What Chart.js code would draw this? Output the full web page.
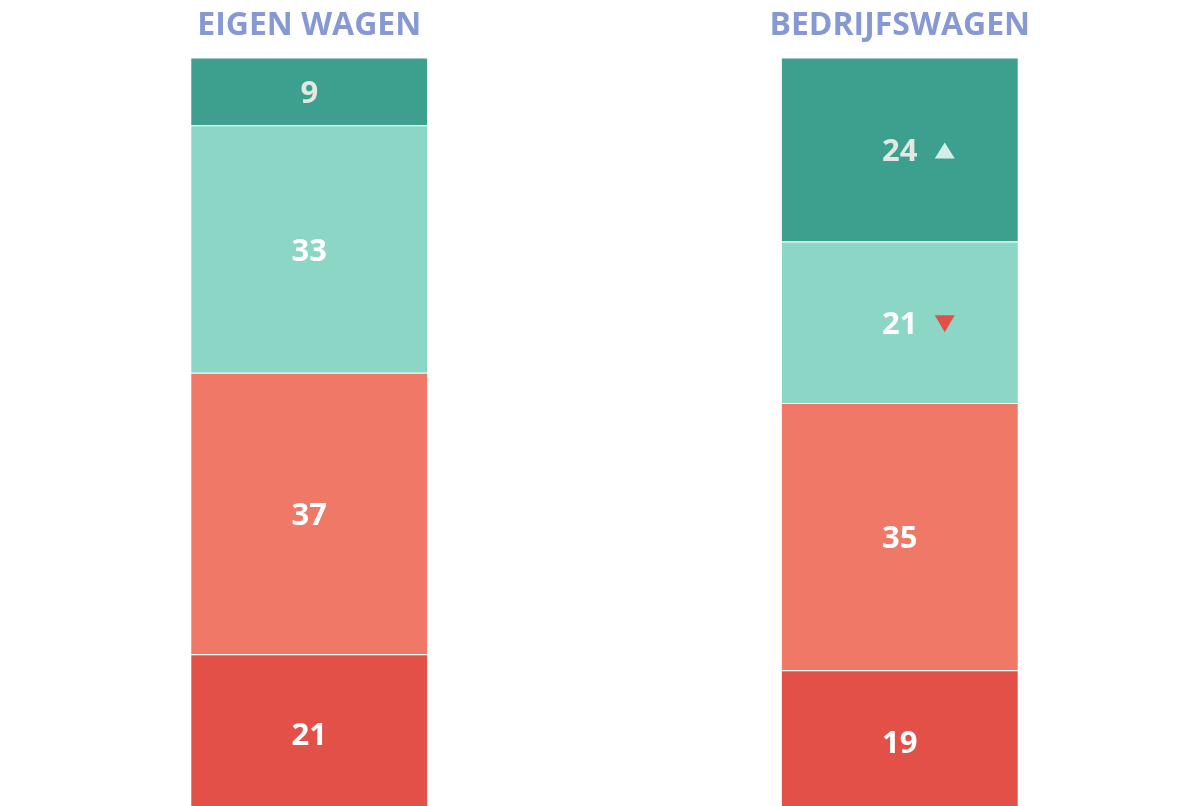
<!DOCTYPE html>
<html>
<head>
<meta charset="utf-8">
<script src="https://cdn.jsdelivr.net/npm/chart.js@4/dist/chart.umd.min.js"></script>
<style>
  html, body { margin: 0; padding: 0; background: #fff; overflow: hidden; }
  #wrap { position: absolute; left: 0; top: -13px; }
</style>
</head>
<body>
<div id="wrap"><canvas id="chart" width="1210" height="825"></canvas></div>
<script>
// categories (titles above the bars)
const categories = ["EIGEN WAGEN", "BEDRIJFSWAGEN"];

// segment values, bottom to top (share in %)
const redValues = [20.9, 18.8];
const salmonValues = [37.3, 35.4];
const mintValues = [32.8, 21.4];
const tealValues = [9.0, 24.4];

// numbers printed in the segments
const redLabels = ["21", "19"];
const salmonLabels = ["37", "35"];
const mintLabels = ["33", "21"];
const tealLabels = ["9", "24"];

// trend markers next to the numbers
const mintTrend = [null, "down"];
const tealTrend = [null, "up"];

const seg = (data, color, labels, trend, textColor) => ({
  data: data,
  backgroundColor: color,
  borderColor: "rgba(255,255,255,0.35)",
  borderWidth: { top: 1 },
  borderSkipped: false,
  barPercentage: 0.4,
  categoryPercentage: 1,
  segLabels: labels,
  segTrend: trend,
  textColor: textColor
});

// draws the number + triangle in the middle of every segment
const segmentLabels = {
  id: "segmentLabels",
  afterDatasetsDraw(chart) {
    const ctx = chart.ctx;
    ctx.save();
    ctx.font = "bold 31px 'Open Sans'";
    ctx.textAlign = "center";
    ctx.textBaseline = "middle";
    chart.data.datasets.forEach((ds, i) => {
      const meta = chart.getDatasetMeta(i);
      meta.data.forEach((bar, j) => {
        const cy = (bar.y + bar.base) / 2;
        ctx.fillStyle = ds.textColor;
        ctx.fillText(ds.segLabels[j], bar.x, cy + 3);
        const t = ds.segTrend ? ds.segTrend[j] : null;
        if (t) {
          const tx = bar.x + 45;
          ctx.beginPath();
          if (t === "up") {
            ctx.fillStyle = "#D4EEE7";
            ctx.moveTo(tx - 10, cy + 9);
            ctx.lineTo(tx + 10, cy + 9);
            ctx.lineTo(tx, cy - 7);
          } else {
            ctx.fillStyle = "#E2504A";
            ctx.moveTo(tx - 10, cy - 7);
            ctx.lineTo(tx + 10, cy - 7);
            ctx.lineTo(tx, cy + 10);
          }
          ctx.closePath();
          ctx.fill();
        }
      });
    });
    ctx.restore();
  }
};

new Chart(document.getElementById("chart").getContext("2d"), {
  type: "bar",
  data: {
    labels: categories,
    datasets: [
      seg(redValues, "#E25047", redLabels, null, "#FFFFFF"),
      seg(salmonValues, "#EF7866", salmonLabels, null, "#FFFFFF"),
      seg(mintValues, "#8CD6C6", mintLabels, mintTrend, "#FFFFFF"),
      seg(tealValues, "#3DA08F", tealLabels, tealTrend, "#E3E8E3")
    ]
  },
  options: {
    responsive: false,
    devicePixelRatio: 1,
    animation: false,
    layout: { padding: { left: 14, right: 15, top: 8, bottom: 0 } },
    plugins: {
      legend: { display: false },
      tooltip: { enabled: false }
    },
    scales: {
      x: {
        position: "top",
        stacked: true,
        grid: { display: false, drawTicks: false },
        border: { display: false },
        ticks: {
          color: "#8799D3",
          font: { family: "'Open Sans'", size: 32, weight: "bold" },
          padding: 12
        }
      },
      y: {
        stacked: true,
        display: false,
        min: 0,
        max: 100
      }
    }
  },
  plugins: [segmentLabels]
});
</script>
</body>
</html>
